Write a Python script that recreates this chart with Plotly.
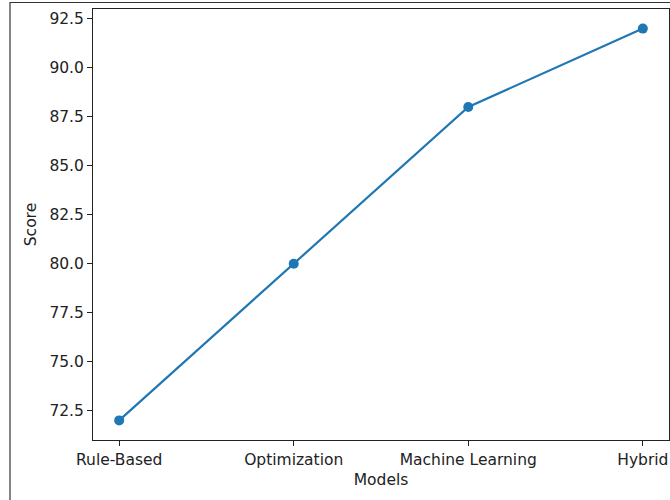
import plotly.graph_objects as go

models = ["Rule-Based", "Optimization", "Machine Learning", "Hybrid"]
scores = [72, 80, 88, 92]
y_ticks = [72.5, 75.0, 77.5, 80.0, 82.5, 85.0, 87.5, 90.0, 92.5]
y_tick_text = [f"{v:.1f}" for v in y_ticks]

W, H = 670, 500
L, R, T, B = 93, 669, 9, 440
pw, ph = R - L, B - T

def px_x(p):
    return (p - L) / pw

def px_y(p):
    return (B - p) / ph

fig = go.Figure()
fig.add_trace(go.Scatter(
    x=list(range(len(models))), y=scores, mode="lines+markers",
    line=dict(color="#1f77b4", width=2.2),
    marker=dict(color="#1f77b4", size=10),
    showlegend=False, cliponaxis=False,
))

font = dict(family="DejaVu Sans", size=15.5, color="#222222")

fig.update_layout(
    width=W, height=H,
    margin=dict(l=L, r=W - R, t=T, b=H - B, pad=0),
    paper_bgcolor="white", plot_bgcolor="white",
    font=font,
    xaxis=dict(
        range=[-0.15, 3.15], tickmode="array",
        tickvals=list(range(len(models))), ticktext=models,
        showgrid=False, zeroline=False, showline=True, mirror=True,
        linecolor="#222222", linewidth=1, ticks="outside", ticklen=5,
        tickcolor="#222222", tickfont=font,
        title=dict(text="Models", font=font, standoff=6),
    ),
    yaxis=dict(
        range=[71, 93], tickmode="array", tickvals=y_ticks, ticktext=y_tick_text,
        showgrid=False, zeroline=False, showline=True, mirror=True,
        linecolor="#222222", linewidth=1, ticks="outside", ticklen=5,
        tickcolor="#222222", tickfont=font,
        title=dict(text="Score", font=font, standoff=8),
    ),
    shapes=[
        dict(type="line", xref="paper", yref="paper",
             x0=px_x(10), x1=px_x(10), y0=px_y(2), y1=px_y(520),
             line=dict(color="#333333", width=1.2)),
        dict(type="line", xref="paper", yref="paper",
             x0=px_x(10), x1=px_x(700), y0=px_y(2.5), y1=px_y(2.5),
             line=dict(color="#333333", width=1.2)),
    ],
)

fig.write_html(
    "out.html",
    config={"displayModeBar": False},
    post_script="document.body.style.margin='0';document.body.style.padding='0';",
)
